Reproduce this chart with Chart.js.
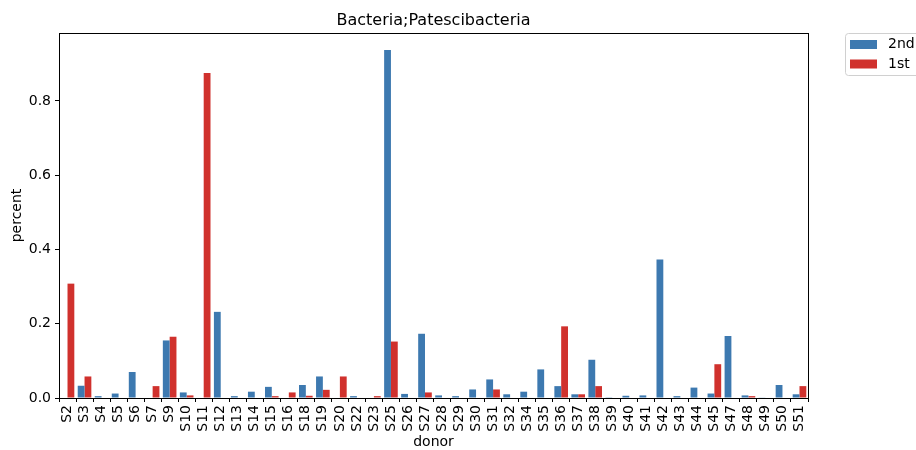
<!DOCTYPE html>
<html>
<head>
<meta charset="utf-8">
<script src="https://cdn.jsdelivr.net/npm/chart.js@4/dist/chart.umd.min.js"></script>
<style>
  html, body { margin: 0; padding: 0; background: #fff; }
  #wrap { width: 916px; height: 450px; position: relative; }
</style>
</head>
<body>
<div id="wrap"><canvas id="c" width="916" height="450"></canvas></div>
<script>
const categories = ["S2","S3","S4","S5","S6","S7","S9","S10","S11","S12","S13","S14","S15","S16","S18","S19","S20","S22","S23","S25","S26","S27","S28","S29","S30","S31","S32","S34","S35","S36","S37","S38","S39","S40","S41","S42","S43","S44","S45","S47","S48","S49","S50","S51"];
const second = [0,0.033,0.005,0.012,0.070,0,0.155,0.015,0,0.232,0.005,0.017,0.030,0,0.035,0.058,0,0.005,0,0.937,0.011,0.173,0.007,0.005,0.023,0.050,0.010,0.017,0.077,0.032,0.010,0.103,0.002,0.006,0.007,0.373,0.005,0.028,0.012,0.167,0.007,0.001,0.035,0.010];
const first = [0.308,0.058,0,0,0,0.032,0.165,0.007,0.875,0,0,0,0.005,0.015,0.006,0.022,0.058,0,0.005,0.152,0,0.015,0,0,0,0.023,0,0,0,0.193,0.010,0.032,0,0,0,0,0,0,0.091,0,0.005,0,0,0.032];
const yTicks = [0, 0.2, 0.4, 0.6, 0.8];
const seriesNames = ["2nd", "1st"];
const titleText = "Bacteria;Patescibacteria";
const xTitle = "donor";
const yTitle = "percent";

const BLUE = "#3d79b0";
const RED = "#d0312d";
const FONT = "'DejaVu Sans', sans-serif";

const decor = {
  id: 'decor',
  afterDraw(chart) {
    const ctx = chart.ctx;
    const a = chart.chartArea;
    const xs = chart.scales.x;
    ctx.save();
    // frame
    ctx.strokeStyle = '#000';
    ctx.lineWidth = 1;
    ctx.strokeRect(Math.round(a.left) + 0.5, Math.round(a.top) + 0.5, Math.round(a.right - a.left), Math.round(a.bottom - a.top));
    // title
    ctx.fillStyle = '#000';
    ctx.font = "16px " + FONT;
    ctx.textAlign = 'center';
    ctx.textBaseline = 'alphabetic';
    ctx.fillText(titleText, (a.left + a.right) / 2, 25);
    // x labels rotated (reading bottom to top)
    ctx.font = "14px " + FONT;
    categories.forEach((c, i) => {
      const x = xs.getPixelForTick(i);
      ctx.save();
      ctx.translate(x, a.bottom + 7);
      ctx.rotate(-Math.PI / 2);
      ctx.textAlign = 'right';
      ctx.textBaseline = 'middle';
      ctx.fillText(c, 0, 0);
      ctx.restore();
    });
    // axis titles
    ctx.textAlign = 'center';
    ctx.textBaseline = 'middle';
    ctx.fillText(xTitle, (a.left + a.right) / 2, 442);
    ctx.save();
    ctx.translate(17, (a.top + a.bottom) / 2);
    ctx.rotate(-Math.PI / 2);
    ctx.fillText(yTitle, 0, 0);
    ctx.restore();
    // legend
    const lx = 845.5, ly = 33.5;
    ctx.strokeStyle = '#d0d0d0';
    ctx.fillStyle = 'rgba(255,255,255,0.8)';
    ctx.beginPath();
    if (ctx.roundRect) ctx.roundRect(lx, ly, 80, 42, 3); else ctx.rect(lx, ly, 80, 42);
    ctx.fill();
    ctx.stroke();
    const cols = chart.data.datasets.map(d => d.backgroundColor);
    chart.data.datasets.forEach((d, i) => {
      const yy = 40 + i * 19.5;
      ctx.fillStyle = cols[i];
      ctx.fillRect(850, yy, 27, 9);
      ctx.fillStyle = '#000';
      ctx.textAlign = 'left';
      ctx.textBaseline = 'middle';
      ctx.font = "14px " + FONT;
      ctx.fillText(d.label, 888, yy + 4.5);
    });
    ctx.restore();
  }
};

new Chart(document.getElementById('c'), {
  type: 'bar',
  data: {
    labels: categories,
    datasets: [
      { label: seriesNames[0], data: second, backgroundColor: BLUE, borderWidth: 0, categoryPercentage: 0.8, barPercentage: 1.0 },
      { label: seriesNames[1], data: first, backgroundColor: RED, borderWidth: 0, categoryPercentage: 0.8, barPercentage: 1.0 }
    ]
  },
  options: {
    responsive: false,
    animation: false,
    devicePixelRatio: 1,
    layout: { padding: { left: 0, right: 108, top: 33, bottom: 0 } },
    plugins: { legend: { display: false }, title: { display: false }, tooltip: { enabled: false } },
    scales: {
      x: {
        offset: true,
        grid: { display: true, drawOnChartArea: false, drawTicks: true, tickLength: 4, color: '#000' },
        border: { display: true, color: '#000' },
        ticks: { display: false },
        afterFit(s) { s.height = 52; }
      },
      y: {
        min: 0,
        max: 0.983,
        grid: { display: true, drawOnChartArea: false, drawTicks: true, tickLength: 4, color: '#000' },
        border: { display: true, color: '#000' },
        ticks: { color: '#000', font: { size: 14, family: FONT }, padding: 4, callback: v => Number(v).toFixed(1) },
        afterBuildTicks(s) { s.ticks = yTicks.map(v => ({ value: v })); },
        afterFit(s) { s.width = 59; }
      }
    }
  },
  plugins: [decor]
});
</script>
</body>
</html>
